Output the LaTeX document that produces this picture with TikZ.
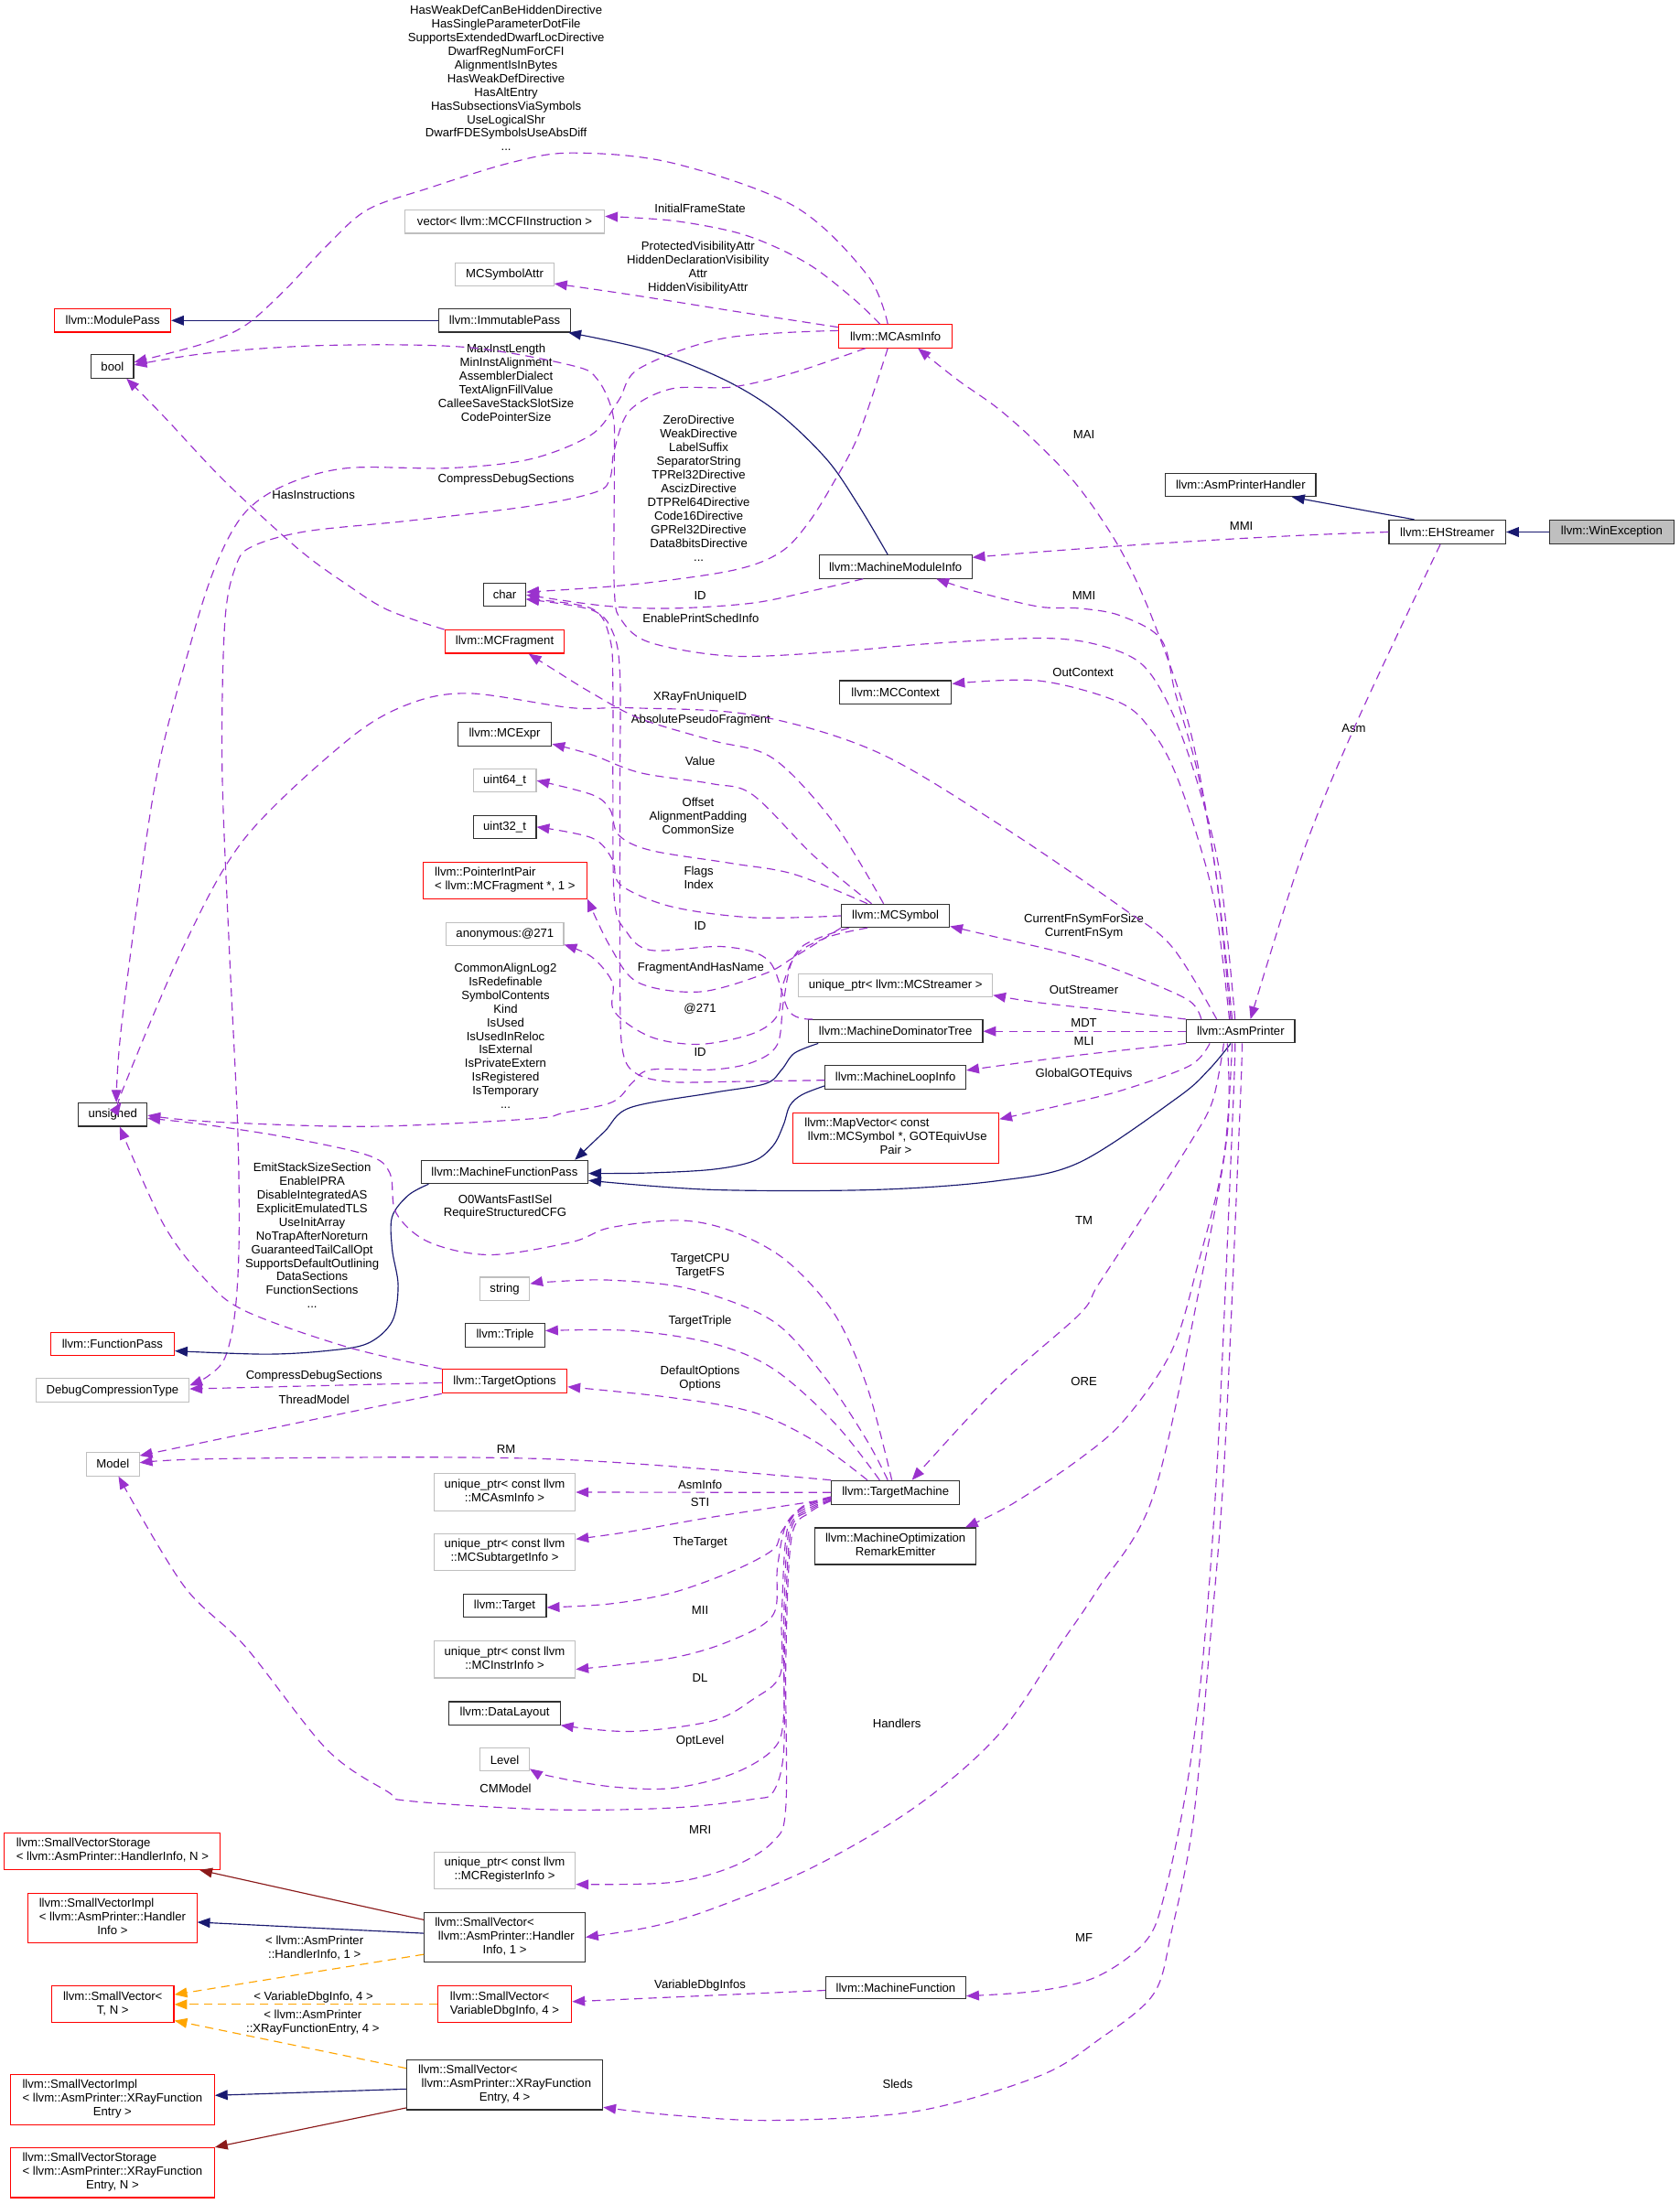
\documentclass[tikz,border=0pt]{standalone}
\usepackage{fontspec}
\setmainfont{Liberation Sans}
\usetikzlibrary{arrows.meta}
\definecolor{depc}{HTML}{9A32CD}
\definecolor{navyc}{HTML}{191970}
\definecolor{redc}{HTML}{8B1A1A}
\definecolor{orc}{HTML}{FFA500}
\definecolor{grayb}{HTML}{BFBFBF}
\definecolor{boxb}{HTML}{303030}
\newcommand{\dxtwo}[2]{\begin{tabular}{@{}l@{}}#1\\\multicolumn{1}{@{}c@{}}{#2}\end{tabular}}
\newcommand{\dxthree}[3]{\begin{tabular}{@{}l@{}}#1\\#2\\\multicolumn{1}{@{}c@{}}{#3}\end{tabular}}
\tikzset{
  txt/.style={font=\fontsize{8.55}{9.7}\selectfont, inner sep=0pt, align=center},
  sz/.style 2 args={minimum width=#1pt, minimum height=#2pt},
  box/.style={txt, draw=boxb, line width=0.75pt, fill=white},
  rbox/.style={box, draw=red},
  gbox/.style={box, draw=grayb},
  tipA/.style={-{Triangle[length=9pt,width=7pt]}},
  dep/.style={draw=depc, line width=0.75pt, dash pattern=on 6pt off 4pt, tipA},
  inh/.style={draw=navyc, line width=0.75pt, tipA},
  inr/.style={draw=redc, line width=0.75pt, tipA},
  tpl/.style={draw=orc, line width=0.75pt, dash pattern=on 6pt off 4pt, tipA},
  sm/.style={smooth, tension=0.55}
}
\begin{document}
\begin{tikzpicture}[x=1pt,y=-1pt]
\useasboundingbox (0,0) rectangle (1194.4,1568);
\fill[white] (0,0) rectangle (1194.4,1568);
% ---------- nodes
\node[box, sz={89}{17}, fill=grayb] (winex) at (1146.5,378.5) {llvm::WinException};
\node[box, sz={83}{17}] (ehs) at (1029.5,378.5) {llvm::EHStreamer};
\node[box, sz={107}{16.5}] (aph) at (882.5,345) {llvm::AsmPrinterHandler};
\node[rbox, sz={80.7}{16.5}] (mai) at (637,239.2) {llvm::MCAsmInfo};
\node[gbox, sz={142}{16.5}] (vec) at (359,157.7) {vector< llvm::MCCFIInstruction >};
\node[gbox, sz={70}{16.5}] (symattr) at (359,195.2) {MCSymbolAttr};
\node[rbox, sz={82.5}{16.5}] (modpass) at (80.2,228) {llvm::ModulePass};
\node[box, sz={94}{16.5}] (immpass) at (359,228) {llvm::ImmutablePass};
\node[box, sz={30}{16.5}] (bool) at (80,260.7) {bool};
\node[box, sz={108.6}{16.5}] (mmi) at (637,403.2) {llvm::MachineModuleInfo};
\node[box, sz={30}{16.5}] (char) at (359,423.2) {char};
\node[rbox, sz={85}{16.5}] (mcfrag) at (359,456.5) {llvm::MCFragment};
\node[box, sz={79.7}{16.5}] (mcctx) at (637,492.5) {llvm::MCContext};
\node[box, sz={66.8}{16.5}] (mcexpr) at (359,522.3) {llvm::MCExpr};
\node[gbox, sz={44.8}{16.5}] (u64) at (359,555.3) {uint64\_t};
\node[box, sz={44.8}{16.5}] (u32) at (359,588.3) {uint32\_t};
\node[rbox, sz={116.4}{26}] (pip) at (359.2,626.4) {\dxtwo{llvm::PointerIntPair}{< llvm::MCFragment *, 1 >}};
\node[gbox, sz={83.5}{16.5}] (anon) at (359.2,664.7) {anonymous:@271};
\node[box, sz={76.8}{16.5}] (mcsym) at (637,651.5) {llvm::MCSymbol};
\node[gbox, sz={138}{16.5}] (ustr) at (637,701) {unique\_ptr< llvm::MCStreamer >};
\node[box, sz={124}{16.5}] (mdt) at (637,733.7) {llvm::MachineDominatorTree};
\node[box, sz={77}{16.5}] (asmp) at (882.5,733.7) {llvm::AsmPrinter};
\node[box, sz={100}{16.7}] (mli) at (637,766.5) {llvm::MachineLoopInfo};
\node[box, sz={48.8}{16.5}] (uns) at (80.2,793) {unsigned};
\node[rbox, sz={146.7}{35.8}] (mapvec) at (637.2,809.5) {\dxthree{llvm::MapVector< const}{\ llvm::MCSymbol *, GOTEquivUse}{Pair >}};
\node[box, sz={118.7}{16.5}] (mfp) at (358.9,833.8) {llvm::MachineFunctionPass};
\node[gbox, sz={35.4}{16.8}] (string) at (359,917) {string};
\node[box, sz={56.5}{16.9}] (triple) at (359.3,950) {llvm::Triple};
\node[rbox, sz={88}{16.7}] (funcpass) at (80,956.1) {llvm::FunctionPass};
\node[gbox, sz={109}{16.8}] (dct) at (80,989.1) {DebugCompressionType};
\node[rbox, sz={88.8}{16.9}] (topts) at (359,982.7) {llvm::TargetOptions};
\node[gbox, sz={37.4}{16.7}] (model) at (80.3,1041.6) {Model};
\node[box, sz={91}{16.9}] (tm) at (637,1061.8) {llvm::TargetMachine};
\node[gbox, sz={100.5}{26.7}] (uasm) at (359,1061.6) {\dxtwo{unique\_ptr< const llvm}{::MCAsmInfo >}};
\node[box, sz={114.5}{26}] (more) at (637,1100) {\dxtwo{llvm::MachineOptimization}{RemarkEmitter}};
\node[gbox, sz={100.5}{26}] (usti) at (359,1104) {\dxtwo{unique\_ptr< const llvm}{::MCSubtargetInfo >}};
\node[box, sz={59.2}{16.7}] (target) at (359,1142.3) {llvm::Target};
\node[gbox, sz={100.5}{26.2}] (uinstr) at (359,1180.6) {\dxtwo{unique\_ptr< const llvm}{::MCInstrInfo >}};
\node[box, sz={79}{16.4}] (dl) at (359,1218.8) {llvm::DataLayout};
\node[gbox, sz={35}{16.3}] (level) at (359,1251.9) {Level};
\node[rbox, sz={153.6}{26}] (svsh) at (80,1317) {\dxtwo{llvm::SmallVectorStorage}{< llvm::AsmPrinter::HandlerInfo, N >}};
\node[gbox, sz={100.5}{26}] (ureg) at (359,1330.6) {\dxtwo{unique\_ptr< const llvm}{::MCRegisterInfo >}};
\node[rbox, sz={120}{35}] (svih) at (80,1364.5) {\dxthree{llvm::SmallVectorImpl}{< llvm::AsmPrinter::Handler}{Info >}};
\node[box, sz={114.4}{35.5}] (svhi) at (359,1378.2) {\dxthree{llvm::SmallVector<}{\ llvm::AsmPrinter::Handler}{Info, 1 >}};
\node[rbox, sz={87}{26}] (svtn) at (80.2,1426) {\dxtwo{llvm::SmallVector<}{T, N >}};
\node[rbox, sz={95.3}{26}] (svvd) at (359,1426) {\dxtwo{llvm::SmallVector<}{VariableDbgInfo, 4 >}};
\node[box, sz={99.6}{16}] (mf) at (637.2,1414) {llvm::MachineFunction};
\node[box, sz={139.5}{35.5}] (svxr) at (359,1483.2) {\dxthree{llvm::SmallVector<}{\ llvm::AsmPrinter::XRayFunction}{Entry, 4 >}};
\node[rbox, sz={145}{35.5}] (svix) at (80,1493.7) {\dxthree{llvm::SmallVectorImpl}{< llvm::AsmPrinter::XRayFunction}{Entry >}};
\node[rbox, sz={145}{35.5}] (svsx) at (80,1545.7) {\dxthree{llvm::SmallVectorStorage}{< llvm::AsmPrinter::XRayFunction}{Entry, N >}};
% ---------- labels
\node[txt] (l1) at (360,55.7) {HasWeakDefCanBeHiddenDirective\\HasSingleParameterDotFile\\SupportsExtendedDwarfLocDirective\\DwarfRegNumForCFI\\AlignmentIsInBytes\\HasWeakDefDirective\\HasAltEntry\\HasSubsectionsViaSymbols\\UseLogicalShr\\DwarfFDESymbolsUseAbsDiff\\...};
\node[txt] (l2) at (498,148) {InitialFrameState};
\node[txt] (l3) at (496.5,190.3) {ProtectedVisibilityAttr\\HiddenDeclarationVisibility\\Attr\\HiddenVisibilityAttr};
\node[txt] (l4) at (360,272.4) {MaxInstLength\\MinInstAlignment\\AssemblerDialect\\TextAlignFillValue\\CalleeSaveStackSlotSize\\CodePointerSize};
\node[txt] (l5) at (360,341) {CompressDebugSections};
\node[txt] (l6) at (223,352) {HasInstructions};
\node[txt] (l7) at (497,347.4) {ZeroDirective\\WeakDirective\\LabelSuffix\\SeparatorString\\TPRel32Directive\\AscizDirective\\DTPRel64Directive\\Code16Directive\\GPRel32Directive\\Data8bitsDirective\\...};
\node[txt] (l8) at (771,309) {MAI};
\node[txt] (l9) at (883,374) {MMI};
\node[txt] (l10) at (498,424) {ID};
\node[txt] (l11) at (771,424) {MMI};
\node[txt] (l12) at (498.5,440) {EnablePrintSchedInfo};
\node[txt] (l13) at (770.4,478.6) {OutContext};
\node[txt] (l14) at (498,496) {XRayFnUniqueID};
\node[txt] (l15) at (498.5,512) {AbsolutePseudoFragment};
\node[txt] (l16) at (963,518) {Asm};
\node[txt] (l17) at (498,541.7) {Value};
\node[txt] (l18) at (496.6,580.5) {Offset\\AlignmentPadding\\CommonSize};
\node[txt] (l19) at (497,624.5) {Flags\\Index};
\node[txt] (l20) at (771,659.1) {CurrentFnSymForSize\\CurrentFnSym};
\node[txt] (l21) at (498,658.5) {ID};
\node[txt] (l22) at (359.6,737) {CommonAlignLog2\\IsRedefinable\\SymbolContents\\Kind\\IsUsed\\IsUsedInReloc\\IsExternal\\IsPrivateExtern\\IsRegistered\\IsTemporary\\...};
\node[txt] (l23) at (498.5,689) {FragmentAndHasName};
\node[txt] (l24) at (771,704.3) {OutStreamer};
\node[txt] (l25) at (498,717.7) {@271};
\node[txt] (l26) at (771,728) {MDT};
\node[txt] (l27) at (771,741) {MLI};
\node[txt] (l28) at (498,748.8) {ID};
\node[txt] (l29) at (771,764.5) {GlobalGOTEquivs};
\node[txt] (l30) at (222,879) {EmitStackSizeSection\\EnableIPRA\\DisableIntegratedAS\\ExplicitEmulatedTLS\\UseInitArray\\NoTrapAfterNoreturn\\GuaranteedTailCallOpt\\SupportsDefaultOutlining\\DataSections\\FunctionSections\\...};
\node[txt] (l31) at (359.3,858.6) {O0WantsFastISel\\RequireStructuredCFG};
\node[txt] (l32) at (771,868.2) {TM};
\node[txt] (l33) at (498,900.5) {TargetCPU\\TargetFS};
\node[txt] (l34) at (498,939.8) {TargetTriple};
\node[txt] (l35) at (498,980.5) {DefaultOptions\\Options};
\node[txt] (l36) at (223.4,979) {CompressDebugSections};
\node[txt] (l37) at (223.4,996) {ThreadModel};
\node[txt] (l38) at (771,982.8) {ORE};
\node[txt] (l39) at (360,1030.7) {RM};
\node[txt] (l40) at (498,1056) {AsmInfo};
\node[txt] (l41) at (498,1069) {STI};
\node[txt] (l42) at (498,1097.7) {TheTarget};
\node[txt] (l43) at (498,1145.4) {MII};
\node[txt] (l44) at (498,1194) {DL};
\node[txt] (l45) at (638,1226) {Handlers};
\node[txt] (l46) at (498,1238.9) {OptLevel};
\node[txt] (l47) at (359.6,1272.2) {CMModel};
\node[txt] (l48) at (498,1301.6) {MRI};
\node[txt] (l49) at (771,1378.4) {MF};
\node[txt] (l50) at (223.7,1385.5) {< llvm::AsmPrinter\\::HandlerInfo, 1 >};
\node[txt] (l51) at (498,1412.3) {VariableDbgInfos};
\node[txt] (l52) at (223,1420.9) {< VariableDbgInfo, 4 >};
\node[txt] (l53) at (222.5,1438.6) {< llvm::AsmPrinter\\::XRayFunctionEntry, 4 >};
\node[txt] (l54) at (638.5,1482.5) {Sleds};
% ---------- edges
\draw[inh] ([xshift=-23.5pt]ehs.north) -- ([xshift=36.5pt]aph.south);
\draw[inh] (winex.west) -- (ehs.east);
\draw[dep] (ehs.west) .. controls (900,381) and (780,389) .. ([yshift=-2pt]mmi.north east);
\draw[dep] plot[sm] coordinates {([xshift=-5pt]ehs.south) (965,514) (926,609) ([xshift=7pt]asmp.north)};
\draw[inh] (immpass.west) -- (modpass.east);
\draw[inh] plot[sm] coordinates {([xshift=-5.5pt]mmi.north) (611,360) (588,326.7) (553,293.3) (515,270) (463,249.5) ([xshift=-2pt]immpass.south east)};
\draw[dep] plot[sm] coordinates {([xshift=-5.5pt]mai.north) (616.8,195.5) (565,146.7) (477.6,115.8) (406.7,108.8) (363,115.8) (305,133.8) (261.4,149.2) (232.3,175) (203,206) (174.3,231.6) (145,244.4) ([yshift=3pt]bool.east)};
\draw[dep] plot[sm] coordinates {([xshift=-11pt]mai.north) (608.2,213.5) (579,190.4) (550,175) (521,164.7) (477.6,156.9) ([yshift=3.8pt]vec.east)};
\draw[dep] plot[sm] coordinates {([yshift=6.4pt]mai.west) (521,221.2) (448.3,209.6) ([yshift=-6.6pt]symattr.east)};
\draw[dep] plot[sm] coordinates {([yshift=4pt]mai.west) (515,240.6) (455,262) (440,285) (421,309) (377.4,326.6) (319.5,333) (247,333) (203,345) (174,365) (154,401) (136.5,454.7) (110.4,557.6) (87,724.8) ([xshift=2.6pt]uns.north)};
\draw[dep] plot[sm] coordinates {([xshift=-21.5pt]mai.south) (565,265) (521,275.3) (477.6,276.6) (448,292) (437,320) (434,340) (424,350) (377.4,360) (290.5,370.5) (218,378) (180,388.5) (168,402) (160,442) (158,545) (163,673) (169,800) (170,884) (167,935) (160,966) (148,979) ([yshift=3.5pt]dct.east)};
\draw[dep] plot[sm] coordinates {([xshift=-5.5pt]mai.south) (611,308.7) (593.7,342) (575,372) (555,393) (521,405.8) (448,416) ([yshift=2pt]char.east)};
\draw[dep] plot[sm] coordinates {([xshift=-4pt]asmp.north) (867.8,622) (852,557.6) (833.5,506.2) (812.4,472.7) (780.8,458.7) (740,454) (660,458) (594,463.7) (521,466.8) (463,457.3) (442.5,441.8) (437,420) (437,330) (436,295) (425,270) (406.7,260) (331,247) (232.4,245.7) (150,251) ([yshift=1pt]bool.east)};
\draw[dep] plot[sm] coordinates {([xshift=-6pt]asmp.north) (865,622) (846.5,519) (820.4,441.8) (797,391) (767.8,347.3) (739,316.5) (710,290.7) (680.8,270) ([xshift=16pt]mai.south)};
\draw[dep] plot[sm] coordinates {([xshift=-7pt]asmp.north) (865,622) (852,550) (836,493) (826,455) (797,438) (768,432.8) (739,431.6) (695.4,421.2) ([xshift=29pt]mmi.south)};
\draw[dep] plot[sm] coordinates {([xshift=-8pt]asmp.north) (865,647.7) (852,596.2) (836,549.8) (820.4,521.6) (797,500) (739,484.3) ([yshift=6pt]mcctx.east)};
\draw[dep] plot[sm] coordinates {([xshift=-17pt]asmp.north) (833.5,673.4) (797,645) (710,586) (622.7,534.5) (535.5,508.7) (448.3,503.6) (406.7,503.6) (334,493.3) (290.5,501) (247,526.8) (174.3,596.2) (130.6,673.4) (87,776) ([xshift=6pt]uns.north)};
\draw[dep] plot[sm] coordinates {([xshift=-28pt]asmp.north) (846,712) (811.6,696.5) (768,681) (710,667) ([yshift=-7.5pt]mcsym.east)};
\draw[dep] plot[sm] coordinates {(asmp.north west) (797,719.7) (739,713.3) ([yshift=-7pt]ustr.east)};
\draw[dep] (asmp.west) -- (mdt.east);
\draw[dep] plot[sm] coordinates {(asmp.south west) (767.8,750.6) (710,758.3) ([yshift=5pt]mli.east)};
\draw[dep] plot[sm] coordinates {([xshift=-22pt]asmp.south) (846,758.3) (797,776) (753.5,786.6) ([yshift=13.3pt]mapvec.east)};
\draw[inh] plot[sm] coordinates {([xshift=-7pt]asmp.south) (860,760.9) (837.7,780.8) (767.8,827) (710,840) (622.7,846.4) (506.6,846.4) ([yshift=-6pt]mfp.east)};
\draw[inh] plot[sm] coordinates {([xshift=-55pt]mdt.south) (565,749.3) (556,761) (544.4,771) (506.6,777.5) (448.3,788) (430,805) ([xshift=50pt]mfp.north)};
\draw[inh] plot[sm] coordinates {([yshift=-6pt]mli.west) (570.5,778.8) (561.8,786.6) (557.4,800) (550,815) (536,826) (506.6,832) (460,834.5) ([yshift=-1pt]mfp.east)};
\draw[inh] plot[sm] coordinates {([xshift=-54pt]mfp.south) (290.5,850.3) (278.9,865.7) (279,889) (283.2,914.6) (278.9,940.2) (261.4,955.8) (232.3,961) (188.7,963.4) ([yshift=-5pt]funcpass.east)};
\draw[dep] plot[sm] coordinates {([xshift=-23pt]mmi.south) (579,420) (535.5,429) (477.6,432.8) (430,431) (char.east)};
\draw[dep] plot[sm] coordinates {([xshift=-59pt]mdt.north) (561.5,719.7) (547,683.7) (515,673.5) (463,676) (445,662) (437,640) (436,560) (436,490) (434,455) (421,433) ([yshift=-3pt]char.east)};
\draw[dep] plot[sm] coordinates {([yshift=-2pt]mli.west) (520,769.5) (477.6,769.7) (453,764) (443,748) (441,700) (441,560) (441,480) (436,450) (421,434) ([yshift=-3.2pt]char.east)};
\draw[dep] plot[sm] coordinates {([xshift=-8.5pt]mcsym.north) (593.7,586) (550,539.6) (506.6,526.8) (455.5,511.3) (421.2,493.2) (392.2,475.3) ([xshift=17pt]mcfrag.south)};
\draw[dep] plot[sm] coordinates {([xshift=-17pt]mcsym.north) (579,609) (535.5,565.5) (506.6,557.6) (455.5,549.8) (421.2,537) ([yshift=-7pt]mcexpr.east)};
\draw[dep] plot[sm] coordinates {([xshift=-20pt]mcsym.north) (565,622) (521,614.3) (463,605) (440,594) (434,576) (421.2,565.4) (u64.east)};
\draw[dep] plot[sm] coordinates {(mcsym.west) (535.5,652.8) (477.6,645) (441.5,629.6) (435.7,611.6) (421.2,596.2) (u32.east)};
\draw[dep] plot[sm] coordinates {(mcsym.south west) (564.7,681) (544,692.7) (497.8,705.6) (454,699) (434,673.4) ([yshift=-13pt]pip.east)};
\draw[dep] plot[sm] coordinates {([xshift=-33pt]mcsym.south) (570.5,673.4) (557.4,699) (553,722.4) (535.5,735.3) (497.8,742.9) (463,737.7) (436.9,719.6) (435.7,699) (421.2,681) ([yshift=-7.3pt]anon.east)};
\draw[dep] plot[sm] coordinates {([xshift=-20pt]mcsym.south) (588,667) (565,681) (557.4,712) (553,743) (535.5,755.7) (506.6,761) (463,761) (450,770) (435.7,784) (401,791.7) (377.4,796) (261.4,801.4) (150,798) ([yshift=-0.5pt]uns.east)};
\draw[dep] plot[sm] coordinates {([xshift=-2.6pt]tm.north) (616.8,986.6) (593.7,935) (559,896.6) (521,876) (483.4,868.2) (434,873.4) (406.7,883.6) (348.6,892.7) (305,883.6) (281.8,863) (277.4,834.8) (261.4,821.8) (203.3,809) (145.2,800) ([yshift=-2.5pt]uns.east)};
\draw[dep] plot[sm] coordinates {([xshift=-5.5pt]tm.north) (616.8,1025) (588,981.5) (550,940) (492,917.2) (434,910.7) (390.4,912) ([yshift=3.7pt]string.east)};
\draw[dep] plot[sm] coordinates {([xshift=-11.3pt]tm.north) (593.7,1012.4) (550,973.8) (506.6,955.7) (448.3,946.7) ([yshift=3.3pt]triple.east)};
\draw[dep] plot[sm] coordinates {([xshift=-20pt]tm.north) (579,1025) (535.5,1004.6) (477.6,994.3) ([yshift=-3.9pt]topts.east)};
\draw[dep] plot[sm] coordinates {(tm.north west) (477.6,1043.2) (390.4,1038) (290.5,1036.7) (145.2,1038) ([yshift=1pt]model.east)};
\draw[dep] (tm.west) -- (uasm.east);
\draw[dep] plot[sm] coordinates {([yshift=-4.5pt]tm.west) (506.6,1079.3) (448.3,1089.6) ([yshift=9pt]usti.east)};
\draw[dep] plot[sm] coordinates {([yshift=-3pt]tm.west) (570.5,1072) (556,1089.6) (550,1102.4) (521,1117.8) (477.6,1133.3) (434,1141) ([yshift=-1.3pt]target.east)};
\draw[dep] plot[sm] coordinates {([yshift=-3.5pt]tm.west) (572,1072) (559,1085) (553,1115) (550,1148.7) (521,1166.7) (477.6,1179.6) ([yshift=-7pt]uinstr.east)};
\draw[dep] plot[sm] coordinates {([yshift=-4pt]tm.west) (573,1073) (560,1088) (556,1150) (555,1191.4) (535.5,1209) (506.6,1224.3) (448.3,1231.8) (dl.south east)};
\draw[dep] plot[sm] coordinates {([yshift=-5pt]tm.west) (574,1074) (561,1090) (557.4,1160) (557.4,1221.7) (550,1244.5) (521,1262) (477.6,1272.2) (434,1271) (390.4,1263.4) ([yshift=-6.5pt]level.east)};
\draw[dep] plot[sm] coordinates {([yshift=-5.5pt]tm.west) (575,1075) (562,1092) (558,1180) (557.4,1247) (550,1274.8) (535.5,1280) (477.6,1286.2) (390.4,1287.4) (290.5,1281.2) (276,1274.8) (232.4,1244.5) (174.3,1171.2) (130.6,1128) ([xshift=4pt]model.south)};
\draw[dep] plot[sm] coordinates {([yshift=-6pt]tm.west) (576,1076) (563,1094) (559,1180) (559,1285) (550,1310) (521,1328) (477.6,1339.2) ([yshift=-10pt]ureg.east)};
\draw[dep] plot[sm] coordinates {([xshift=-9.5pt]asmp.south) (873,806.5) (854.6,909.4) (820.4,1064) (780.8,1130.7) (753.5,1171) (710,1234.4) (651.8,1285) (579,1328) (506.6,1358) (463,1370.8) (svhi.east)};
\draw[dep] plot[sm] coordinates {([xshift=-12pt]asmp.south) (862.5,783.4) (846,814) (810,870) (780.8,914.6) (767.8,935) (710,986.5) ([xshift=11.7pt]tm.north)};
\draw[dep] plot[sm] coordinates {([xshift=-6pt]asmp.south) (870.4,824.4) (852,900) (833.5,961) (800,1010) (767.8,1038) (720,1070) ([xshift=-8pt]more.north east)};
\draw[dep] plot[sm] coordinates {([xshift=-4pt]asmp.south) (877,790) (866,1038) (855.5,1182) (844,1272) (828.3,1348) (815,1381) (780.8,1406) (739,1416.3) ([yshift=-6pt]mf.east)};
\draw[dep] plot[sm] coordinates {([xshift=1pt]asmp.south) (882,790) (871,1038) (860.5,1171) (848.5,1297.4) (833.5,1373.4) (820.4,1418.8) (780.8,1451.6) (739,1477) (651.8,1502) (550,1508.5) (477.6,1504.7) ([yshift=-16pt]svxr.east)};
\draw[inr] ([yshift=12.4pt]svhi.west) -- ([xshift=62pt]svsh.south);
\draw[inh] ([yshift=2.8pt]svhi.west) -- ([yshift=-3pt]svih.east);
\draw[tpl] ([yshift=-12.2pt]svhi.west) -- ([yshift=7pt]svtn.east);
\draw[tpl] (svvd.west) -- (svtn.east);
\draw[tpl] ([yshift=11.8pt]svxr.west) -- ([yshift=-11.5pt]svtn.east);
\draw[inh] ([yshift=-3pt]svxr.west) -- ([yshift=3pt]svix.east);
\draw[inr] ([yshift=-16.4pt]svxr.west) -- (svsx.north east);
\draw[dep] ([yshift=-2pt]mf.west) -- ([yshift=2pt]svvd.east);
\draw[dep] plot[sm] coordinates {(topts.north west) (247,958.3) (174.3,932.6) (145.2,909.4) (116.2,870.8) ([xshift=5pt]uns.south)};
\draw[dep] ([yshift=-1pt]topts.west) -- ([yshift=1pt]dct.east);
\draw[dep] plot[sm] coordinates {(topts.south west) (261.4,1002) (174.3,1020) ([yshift=6pt]model.east)};
\draw[dep] plot[sm] coordinates {(mcfrag.north west) (276,434) (247,416) (212,390.4) (159.7,342.2) (116.2,295.9) ([xshift=10pt]bool.south)};
\end{tikzpicture}
\end{document}
